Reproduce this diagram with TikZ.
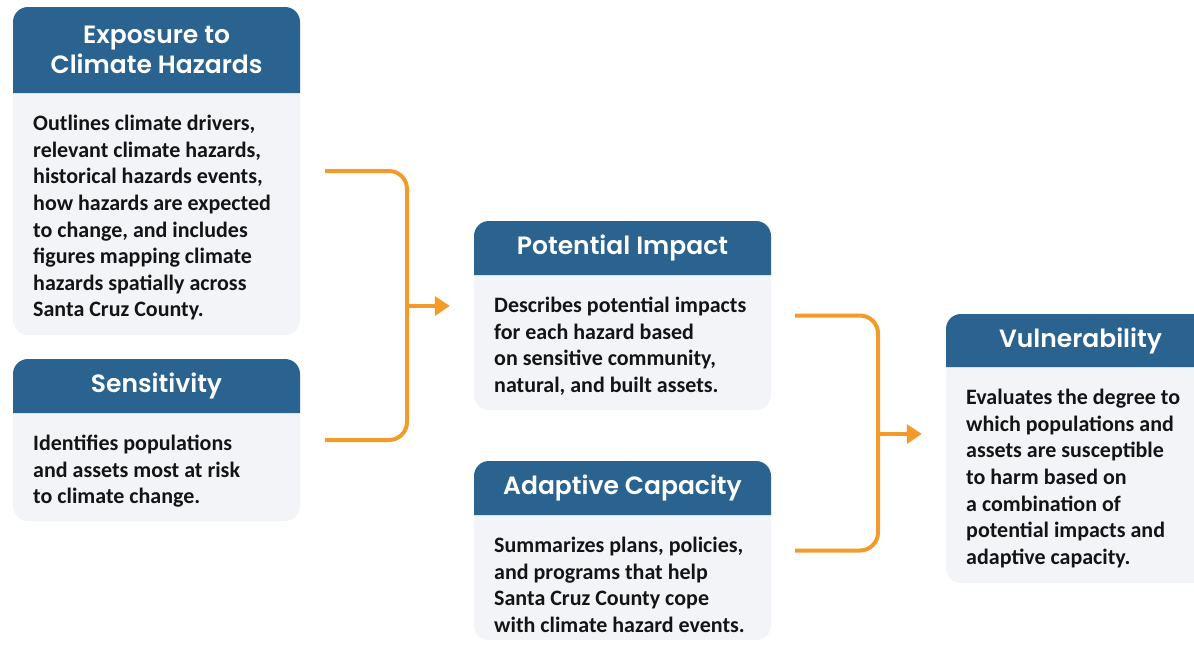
\documentclass[tikz,border=0pt]{standalone}
\usepackage{fontspec}
\setmainfont{Carlito}
\newfontfamily\hfont{Poppins SemiBold}
\usetikzlibrary{arrows.meta}
\definecolor{hdr}{HTML}{2A6290}
\definecolor{bodyc}{HTML}{F2F4F8}
\definecolor{org}{HTML}{F29B2A}
\definecolor{txt}{HTML}{141414}
\tikzset{
  x=1pt,y=-1pt,
  panel/.style={fill=bodyc, rounded corners=15pt, inner sep=0pt, draw=none},
  ttl/.style={text=white, font=\hfont\fontsize{25}{30}\selectfont, align=center, inner sep=0pt},
  bodytext/.style={text=txt, font=\bfseries\fontsize{22}{26.6}\selectfont, align=left, anchor=north west, inner sep=0pt},
  brk/.style={draw=org, line width=4pt, rounded corners=18pt},
  arr/.style={draw=org, line width=4pt, -{Triangle[length=15pt,width=19pt]}}
}
\newcommand{\mkpanel}[8]{%
  % #1 name, #2 x1, #3 y1, #4 x2, #5 y2, #6 y header bottom, #7 title, #8 body
  \node[panel, minimum width=#4-#2, minimum height=#5-#3] (#1) at ({(#2+#4)/2},{(#3+#5)/2}) {};
  \fill[hdr] (#2,#6) [rounded corners=15pt]-- (#2,#3) -- (#4,#3) [sharp corners]-- (#4,#6) -- cycle;
  \node[ttl] (#1-t) at ({(#2+#4)/2},{(#3+#6)/2}) {#7};
  \node[bodytext] (#1-b) at ({#2+20},{#6+22}) {#8};
}
\begin{document}
\begin{tikzpicture}
\useasboundingbox (0,0) rectangle (1194,646);
\clip (0,0) rectangle (1194,646);
\fill[white] (0,0) rectangle (1194,646);

\mkpanel{exp}{13}{7}{300}{335}{93}{Exposure to\\Climate Hazards}{Outlines climate drivers,\\relevant climate hazards,\\historical hazards events,\\how hazards are expected\\to change, and includes\\figures mapping climate\\hazards spatially across\\Santa Cruz County.}
\mkpanel{sen}{13}{359}{300}{521}{413}{Sensitivity}{Identifies populations\\and assets most at risk\\to climate change.}
\mkpanel{pot}{474}{221}{771}{410}{275}{Potential Impact}{Describes potential impacts\\for each hazard based\\on sensitive community,\\natural, and built assets.}
\mkpanel{ada}{474}{461}{771}{640}{515}{Adaptive Capacity}{Summarizes plans, policies,\\and programs that help\\Santa Cruz County cope\\with climate hazard events.}
\mkpanel{vul}{946}{314}{1215}{583}{367}{Vulnerability}{Evaluates the degree to\\which populations and\\assets are susceptible\\to harm based on\\a combination of\\potential impacts and\\adaptive capacity.}

\coordinate (j1) at (407,306);
\coordinate (j2) at (878,434);
\draw[brk] ([xshift=25pt]exp.east) -| (j1) |- ([xshift=25pt]sen.east);
\draw[arr] (j1) -- ([xshift=-24pt]pot.west |- j1);
\draw[brk] ([xshift=24pt]pot.east) -| (j2) |- ([xshift=24pt]ada.east);
\draw[arr] (j2) -- ([xshift=-24pt]vul.west |- j2);
\end{tikzpicture}
\end{document}
